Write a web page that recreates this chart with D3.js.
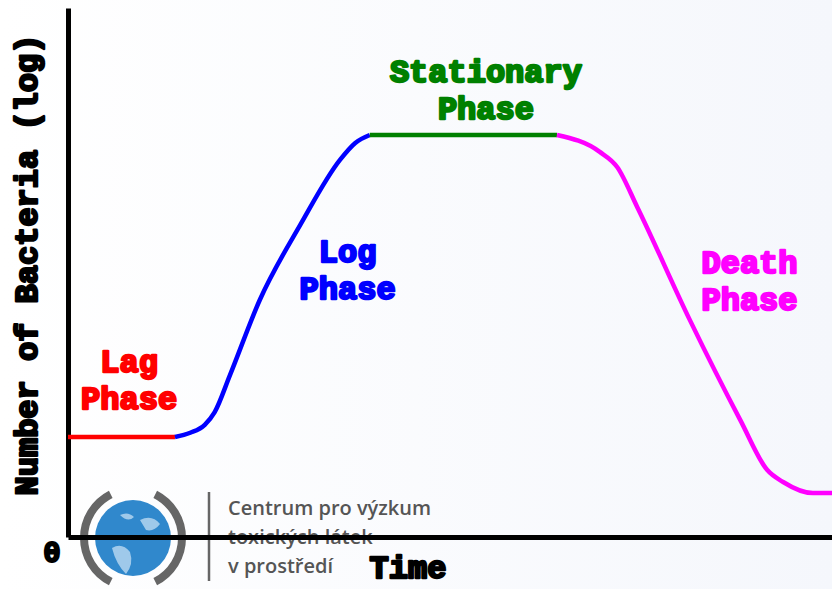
<!DOCTYPE html>
<html><head><meta charset="utf-8">
<script src="https://cdn.jsdelivr.net/npm/d3@7"></script>
<style>body{margin:0;background:#fff;}svg{display:block;}</style>
</head><body>
<svg id="c" width="832" height="589"></svg>
<script>
// Data (time units 0..100, log count units 0..10)
const lagTime = [0, 14.0];
const lagCount = [1.89, 1.89];
const logTime = [14.0, 16.0, 17.9, 19.2, 21.2, 25.1, 30.4, 35.6, 37.6, 39.5];
const logCount = [1.89, 1.97, 2.12, 2.36, 3.06, 4.48, 5.90, 7.13, 7.45, 7.60];
const statTime = [39.5, 64.0];
const statCount = [7.60, 7.60];
const deathTime = [64.0, 69.6, 71.9, 74.5, 81.4, 88.0, 91.5, 93.6, 97.5, 100];
const deathCount = [7.60, 7.28, 6.99, 6.24, 4.10, 2.21, 1.27, 1.04, 0.83, 0.83];
const phaseNames = ["Lag", "Log", "Stationary", "Death"];
const phaseColors = ["#ff0000", "#0000ff", "#008000", "#ff00ff"];
const labelTime = [8.0, 36.6, 54.7, 89.2];
const labelCount = [3.11, 5.20, 8.60, 5.00];
const axisTitleX = "Time";
const axisTitleY = "Number of Bacteria (log)";
const originLabel = "0";
const logoLines = ["Centrum pro výzkum", "toxických látek", "v prostředí"];

const svg = d3.select("#c");
const x = d3.scaleLinear().domain([0, 100]).range([68, 832]);
const y = d3.scaleLinear().domain([0, 10]).range([537, 8]);
const font = "'Liberation Mono', 'Courier New', monospace";

// background subtle
const defs = svg.append("defs");
const g = defs.append("linearGradient").attr("id","bg").attr("x1","0").attr("x2","1");
g.append("stop").attr("offset","0").attr("stop-color","#ffffff");
g.append("stop").attr("offset","1").attr("stop-color","#f5f7fc");
svg.append("rect").attr("width",832).attr("height",589).attr("fill","url(#bg)");

// watermark logo
const logo = svg.append("g");
logo.append("circle").attr("cx",133).attr("cy",538).attr("r",38).attr("fill","#3088cc");
logo.append("path").attr("d","M 140 520 q 12 -6 20 4 q -6 8 -14 6 z M 112 548 q 10 -6 18 4 q 4 12 -4 22 q -10 -10 -14 -26 z M 120 515 q 8 -4 14 2 q -6 6 -14 -2 z")
  .attr("fill","#9fc9ea");
const arc = d3.arc();
logo.append("path").attr("transform","translate(133,538)")
  .attr("d", arc({innerRadius:45, outerRadius:53, startAngle:-Math.PI*0.85, endAngle:-Math.PI*0.15}))
  .attr("fill","#666");
logo.append("path").attr("transform","translate(133,538)")
  .attr("d", arc({innerRadius:45, outerRadius:53, startAngle:Math.PI*0.15, endAngle:Math.PI*0.85}))
  .attr("fill","#666");
logo.append("line").attr("x1",209).attr("x2",209).attr("y1",492).attr("y2",581).attr("stroke","#666").attr("stroke-width",2.5);
logo.selectAll("text.logo").data(logoLines).join("text")
  .attr("x",228).attr("y",(d,i)=>515+i*29)
  .attr("font-family","'Open Sans', sans-serif").attr("font-size",20).attr("font-weight",600)
  .attr("fill","#555").text(d=>d);

// axes
const xAxis = d3.axisBottom(x).tickValues([]).tickSizeOuter(0);
const yAxis = d3.axisLeft(y).tickValues([]).tickSizeOuter(0);
svg.append("g").attr("transform","translate(0,537)").call(xAxis)
  .select(".domain").attr("stroke","#000").attr("stroke-width",5);
svg.append("g").attr("transform","translate(68,0)").call(yAxis)
  .select(".domain").attr("stroke","#000").attr("stroke-width",5);

// curves
const line = d3.line().x(d=>x(d[0])).y(d=>y(d[1])).curve(d3.curveMonotoneX);
const segs = [
  d3.zip(lagTime, lagCount),
  d3.zip(logTime, logCount),
  d3.zip(statTime, statCount),
  d3.zip(deathTime, deathCount)
];
svg.selectAll("path.seg").data(segs).join("path").attr("class","seg")
  .attr("d", line).attr("fill","none")
  .attr("stroke",(d,i)=>phaseColors[i]).attr("stroke-width",4.5);

// phase labels
phaseNames.forEach((n,i)=>{
  const t = svg.append("text").attr("x",x(labelTime[i])).attr("y",y(labelCount[i]))
    .attr("text-anchor","middle").attr("font-family",font).attr("font-weight","bold")
    .attr("font-size",32).attr("fill",phaseColors[i])
    .attr("stroke",phaseColors[i]).attr("stroke-width",2.4).attr("stroke-linejoin","round");
  t.append("tspan").attr("x",x(labelTime[i])).text(n);
  t.append("tspan").attr("x",x(labelTime[i])).attr("dy",37).text("Phase");
});

// axis titles
svg.append("text").attr("transform","translate(37,265) rotate(-90)")
  .attr("text-anchor","middle").attr("font-family",font).attr("font-weight","bold")
  .attr("font-size",32).attr("stroke","#000").attr("stroke-width",2.4).attr("stroke-linejoin","round").text(axisTitleY);
svg.append("text").attr("x",408).attr("y",578)
  .attr("text-anchor","middle").attr("font-family",font).attr("font-weight","bold")
  .attr("font-size",32).attr("stroke","#000").attr("stroke-width",2.4).attr("stroke-linejoin","round").text(axisTitleX);
svg.append("text").attr("x",52).attr("y",562)
  .attr("text-anchor","middle").attr("font-family",font).attr("font-weight","bold")
  .attr("font-size",29).attr("stroke","#000").attr("stroke-width",2).text(originLabel);
</script>
</body></html>
